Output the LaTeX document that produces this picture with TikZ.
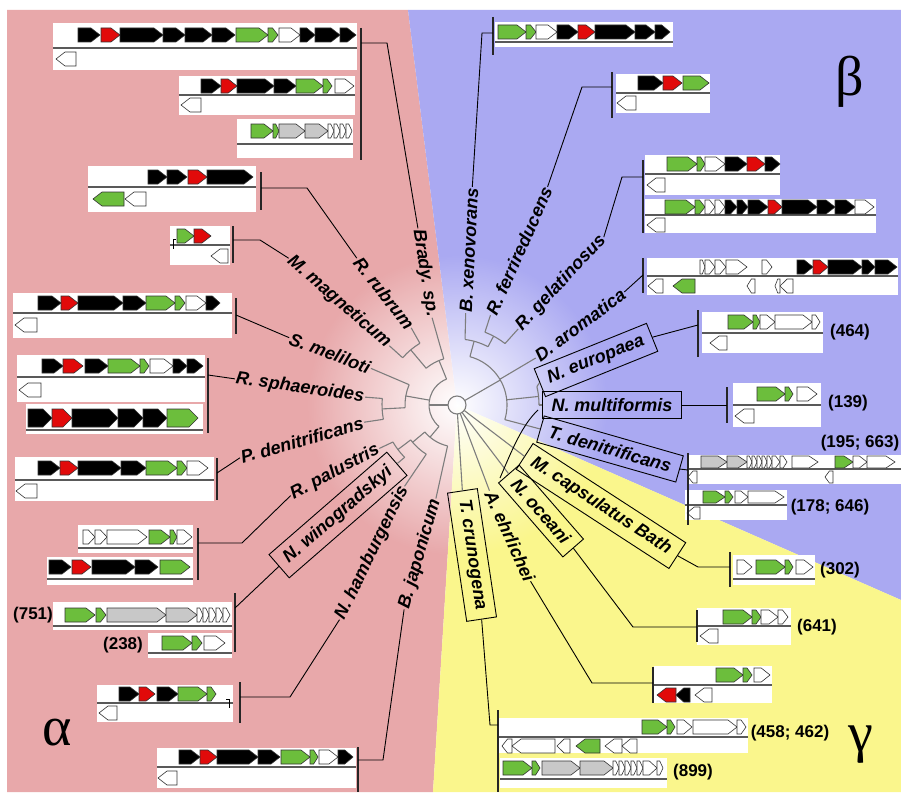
\documentclass[tikz,border=0pt]{standalone}
\usepackage{fontspec}
\setmainfont{Liberation Sans}
\newfontfamily\greekfont{Liberation Serif}
\usetikzlibrary{calc,fadings}

\definecolor{alphabg}{RGB}{232,168,170}
\definecolor{betabg}{RGB}{170,169,242}
\definecolor{gammabg}{RGB}{250,246,140}
\definecolor{treegray}{RGB}{125,125,125}
\colorlet{gk}{black}
\definecolor{gr}{RGB}{225,10,10}
\definecolor{gg}{RGB}{108,190,60}
\colorlet{gw}{white}
\definecolor{gy}{RGB}{200,200,200}

\tikzfading[name=rootglow, inner color=transparent!0, outer color=transparent!100]

\tikzset{
  treeline/.style={draw=treegray, line width=1.1pt},
  conn/.style={draw=black, line width=0.9pt},
  bracket/.style={draw=black!85, line width=1.3pt},
  genestyle/.style={draw=black!80, line width=0.6pt},
  species/.style={font=\fontsize{18}{20}\selectfont\bfseries\itshape, inner sep=1pt},
  boxed/.style={species, draw=black, line width=0.9pt, inner xsep=9pt, inner ysep=7pt},
  copies/.style={font=\fontsize{17}{19}\selectfont\bfseries, inner sep=1pt},
  clade/.style={font=\fontsize{56}{60}\selectfont\greekfont, inner sep=0pt},
  panel/.style={fill=white},
  sepline/.style={draw=black!65, line width=1.4pt}
}

% gene arrows: from x1 to x2 at height y, fill colour
\def\gh{7}
\newcommand{\fgene}[4]{%
  \pgfmathsetmacro{\gt}{#2-min(9,(#2-#1)*0.55)}%
  \draw[genestyle,fill=#4] (#1,#3-\gh) -- (\gt,#3-\gh) -- (#2,#3) -- (\gt,#3+\gh) -- (#1,#3+\gh) -- cycle;}
\newcommand{\rgene}[4]{%
  \pgfmathsetmacro{\gt}{#1+min(9,(#2-#1)*0.55)}%
  \draw[genestyle,fill=#4] (#2,#3-\gh) -- (\gt,#3-\gh) -- (#1,#3) -- (\gt,#3+\gh) -- (#2,#3+\gh) -- cycle;}
% white panel with its strand line
\newcommand{\cluster}[5]{\fill[panel] (#1,#2) rectangle (#3,#4); \draw[sepline] (#1,#5) -- (#3,#5);}
% tree pieces around the root
\newcommand{\tarc}[3]{\draw[treeline,shift={(C)}] (#2:#1) arc[start angle=#2,end angle=#3,radius=#1];}
\newcommand{\trad}[3]{\draw[treeline,shift={(C)}] (#1:#2) -- (#1:#3);}
\newcommand{\leaf}[3]{\draw[treeline] ($(C)+(#1:#2)$) -- (#3);}

\begin{document}
\begin{tikzpicture}[x=1pt,y=-1pt]
\useasboundingbox (0,0) rectangle (901,792);
\coordinate (C) at (457,405);

% background sectors
\fill[white] (0,0) rectangle (901,792);
\fill[alphabg] (C) -- (408,10) -- (7,10) -- (7,792) -- (433,792) -- cycle;
\fill[betabg] (C) -- (408,10) -- (901,10) -- (901,600) -- cycle;
\fill[gammabg] (C) -- (901,600) -- (901,792) -- (433,792) -- cycle;
\fill[white,path fading=rootglow] (C) circle (150);

% ---- alpha clusters
\cluster{53}{23}{357}{70}{48}
\foreach \a/\b/\c in {78/100/gk,101/120/gr,120/163/gk,163/185/gk,185/212/gk,212/235/gk,236/268/gg,268/278/gg,279/300/gw,300/315/gk,315/340/gk,340/356/gk} \fgene{\a}{\b}{35}{\c};
\rgene{56}{76}{59}{gw}
\cluster{179}{76}{355}{115}{95}
\foreach \a/\b/\c in {201/221/gk,221/237/gr,237/274/gk,274/296/gk,296/323/gg,323/332/gg,335/354/gw} \fgene{\a}{\b}{86}{\c};
\rgene{181}{201}{105}{gw}
\cluster{237}{119}{353}{158}{144}
\foreach \a/\b/\c in {251/273/gg,273/279/gg,279/305/gy,305/328/gy,328/334/gw,334/340/gw,340/346/gw,346/352/gw} \fgene{\a}{\b}{131}{\c};
\draw[bracket] (361,28) -- (361,160);

\cluster{88}{166}{256}{212}{187}
\foreach \a/\b/\c in {148/167/gk,167/187/gk,188/207/gr,207/253/gk} \fgene{\a}{\b}{177}{\c};
\foreach \a/\b/\c in {93/124/gg,125/146/gw} \rgene{\a}{\b}{199}{\c};
\draw[bracket] (261,172) -- (261,210);

\cluster{170}{226}{230}{265}{245}
\foreach \a/\b/\c in {177/194/gg,194/211/gr} \fgene{\a}{\b}{236}{\c};
\rgene{211}{228}{256}{gw}
\draw[line width=0.8pt] (176,239) -- (173,239) -- (173,249);
\draw[bracket] (233,226) -- (233,263);

\cluster{13}{293}{232}{338}{313}
\foreach \a/\b/\c in {38/61/gk,61/78/gr,78/123/gk,123/146/gk,146/175/gg,175/185/gg,186/206/gw,206/220/gk} \fgene{\a}{\b}{303}{\c};
\rgene{15}{37}{325}{gw}
\draw[bracket] (236,298) -- (236,334);

\cluster{17}{355}{205}{402}{377}
\foreach \a/\b/\c in {42/63/gk,63/83/gr,85/108/gk,108/140/gg,140/149/gg,150/173/gw,173/187/gk,187/203/gk} \fgene{\a}{\b}{366}{\c};
\rgene{19}{41}{390}{gw}
\cluster{26}{404}{203}{434}{430}
\def\gh{9}
\foreach \a/\b/\c in {28/52/gk,52/72/gr,72/118/gk,118/143/gk,143/167/gk,167/198/gg} \fgene{\a}{\b}{418}{\c};
\def\gh{7}
\draw[bracket] (208,358) -- (208,433);

\cluster{15}{457}{214}{501}{480}
\foreach \a/\b/\c in {38/60/gk,60/78/gr,78/121/gk,121/146/gk,146/177/gg,177/187/gg,187/208/gw} \fgene{\a}{\b}{468}{\c};
\rgene{16}{37}{491}{gw}
\draw[bracket] (217,458) -- (217,500);

\cluster{78}{525}{193}{553}{548}
\foreach \a/\b/\c in {83/95/gw,95/107/gw,107/147/gw,149/170/gg,170/177/gg,177/192/gw} \fgene{\a}{\b}{537}{\c};
\cluster{47}{557}{193}{585}{579}
\foreach \a/\b/\c in {49/71/gk,72/91/gr,92/135/gk,135/158/gk,160/190/gg} \fgene{\a}{\b}{567}{\c};
\draw[bracket] (198,528) -- (198,580);

\cluster{53}{602}{232}{630}{626}
\foreach \a/\b/\c in {65/95/gg,96/106/gg,107/166/gy,166/197/gy,197/203/gw,203/209/gw,209/216/gw,216/223/gw,223/230/gw} \fgene{\a}{\b}{615}{\c};
\node[copies] (cn751) at (33,615) {(751)};
\cluster{148}{633}{232}{658}{653}
\foreach \a/\b/\c in {162/192/gg,192/202/gg,204/225/gw} \fgene{\a}{\b}{643}{\c};
\node[copies] (cn238) at (123,645) {(238)};
\draw[bracket] (235,593) -- (235,652);

\cluster{97}{685}{233}{722}{703}
\foreach \a/\b/\c in {119/139/gk,139/155/gr,157/178/gk,178/207/gg,207/216/gg} \fgene{\a}{\b}{694}{\c};
\rgene{99}{117}{713}{gw}
\draw[line width=0.8pt] (226,699) -- (229,699) -- (229,708);
\draw[bracket] (240,682) -- (240,723);

\cluster{157}{748}{356}{788}{767}
\foreach \a/\b/\c in {179/200/gk,200/217/gr,217/258/gk,258/280/gk,281/310/gg,310/318/gg,319/338/gw,338/353/gk} \fgene{\a}{\b}{757}{\c};
\rgene{158}{177}{778}{gw}
\draw[bracket] (358,747) -- (358,792);

% ---- beta clusters
\cluster{495}{22}{673}{47}{42}
\foreach \a/\b/\c in {498/526/gg,526/536/gg,536/557/gw,557/578/gk,578/595/gr,595/635/gk,635/655/gk,655/670/gk} \fgene{\a}{\b}{32}{\c};
\draw[bracket] (493,17) -- (493,55);

\cluster{616}{74}{710}{113}{93}
\foreach \a/\b/\c in {638/663/gk,663/682/gr,683/709/gg} \fgene{\a}{\b}{83}{\c};
\rgene{617}{636}{103}{gw}
\draw[bracket] (612,72) -- (612,118);

\cluster{645}{155}{780}{195}{174}
\foreach \a/\b/\c in {667/697/gg,697/705/gg,705/725/gw,725/747/gk,747/765/gr,765/780/gk} \fgene{\a}{\b}{164}{\c};
\rgene{647}{665}{185}{gw}
\cluster{645}{199}{876}{233}{215}
\foreach \a/\b/\c in {665/695/gg,695/705/gg,705/715/gw,715/725/gw,725/737/gk,737/748/gk,748/768/gk,768/782/gr,782/817/gk,817/835/gk,835/855/gk,855/874/gw} \fgene{\a}{\b}{207}{\c};
\rgene{647}{665}{225}{gw}
\draw[bracket] (643,160) -- (643,233);

\cluster{647}{258}{898}{295}{276}
\foreach \a/\b/\c in {700/705/gw,705/715/gw,715/726/gw,726/747/gw,762/772/gw,797/813/gk,813/828/gr,828/862/gk,862/875/gk,875/897/gk} \fgene{\a}{\b}{267}{\c};
\foreach \a/\b/\c in {648/663/gw,673/695/gg,747/755/gw,775/780/gw,780/793/gw} \rgene{\a}{\b}{286}{\c};
\draw[bracket] (643,258) -- (643,293);

\cluster{702}{312}{823}{353}{333}
\foreach \a/\b/\c in {728/753/gg,753/760/gg,760/775/gw,775/812/gw,812/820/gw} \fgene{\a}{\b}{322}{\c};
\rgene{710}{727}{343}{gw}
\node[copies] (cn464) at (850,332) {(464)};
\draw[bracket] (698,310) -- (698,357);

\cluster{733}{383}{821}{427}{405}
\foreach \a/\b/\c in {757/785/gg,785/793/gg,797/817/gw} \fgene{\a}{\b}{394}{\c};
\rgene{735}{754}{416}{gw}
\node[copies] (cn139) at (848,403) {(139)};
\draw[bracket] (727,387) -- (727,423);

\def\gh{6}
\cluster{687}{455}{901}{484}{469}
\foreach \a/\b/\c in {701/727/gy,727/747/gy,747/752/gw,752/757/gw,757/762/gw,762/767/gw,767/772/gw,772/780/gw,780/787/gw,792/818/gw,835/853/gg,853/867/gw,867/895/gw} \fgene{\a}{\b}{462}{\c};
\foreach \a/\b/\c in {688/697/gw,825/833/gw} \rgene{\a}{\b}{477}{\c};
\node[copies] (cn195) at (860,443) {(195; 663)};
\cluster{685}{490}{787}{520}{505}
\foreach \a/\b/\c in {703/725/gg,725/733/gg,735/748/gw,748/784/gw} \fgene{\a}{\b}{497}{\c};
\rgene{687}{700}{513}{gw}
\node[copies] (cn178) at (830,507) {(178; 646)};
\def\gh{7}
\draw[bracket] (688,453) -- (688,525);

% ---- gamma clusters
\cluster{733}{555}{815}{585}{579}
\foreach \a/\b/\c in {737/752/gw,756/785/gg,785/793/gg,796/813/gw} \fgene{\a}{\b}{567}{\c};
\node[copies] (cn302) at (840,570) {(302)};
\draw[bracket] (730,552) -- (730,587);

\cluster{697}{608}{791}{645}{626}
\foreach \a/\b/\c in {723/752/gg,752/761/gg,761/778/gw,778/788/gw} \fgene{\a}{\b}{617}{\c};
\rgene{700}{718}{636}{gw}
\node[copies] (cn641) at (817,627) {(641)};
\draw[bracket] (697,610) -- (697,642);

\cluster{654}{666}{772}{703}{685}
\foreach \a/\b/\c in {716/743/gg,743/752/gg,754/770/gw} \fgene{\a}{\b}{675}{\c};
\foreach \a/\b/\c in {657/676/gr,676/690/gk,695/712/gw} \rgene{\a}{\b}{695}{\c};
\draw[bracket] (653,667) -- (653,703);

\cluster{498}{718}{748}{753}{737}
\foreach \a/\b/\c in {642/667/gg,667/675/gg,677/692/gw,693/737/gw,737/746/gw} \fgene{\a}{\b}{727}{\c};
\foreach \a/\b/\c in {502/512/gw,512/555/gw,557/570/gw,576/600/gg,605/622/gw,622/637/gw} \rgene{\a}{\b}{746}{\c};
\node[copies] (cn458) at (790,733) {(458; 462)};
\cluster{500}{758}{667}{788}{779}
\foreach \a/\b/\c in {503/532/gg,532/540/gg,542/580/gy,580/613/gy,613/619/gw,619/625/gw,625/631/gw,631/637/gw,637/643/gw,643/657/gw,657/663/gw} \fgene{\a}{\b}{768}{\c};
\node[copies] (cn899) at (693,772) {(899)};
\draw[bracket] (498,710) -- (498,792);

% ---- species labels
\node[species, rotate=-81] (lbBrady) at (425,273) {Brady. sp.};
\node[species, rotate=-52] (lbRubrum) at (384,293) {R. rubrum};
\node[species, rotate=-41] (lbMagn) at (339,302) {M. magneticum};
\node[species, rotate=-20.6] (lbMeli) at (330,353) {S. meliloti};
\node[species, rotate=-8] (lbSphaer) at (300,388) {R. sphaeroides};
\node[species, rotate=16] (lbPden) at (302,440) {P. denitrificans};
\node[species, rotate=28] (lbPalus) at (335,472) {R. palustris};
\node[boxed, rotate=41] (lbWino) at (338,515) {N. winogradskyi};
\node[species, rotate=64] (lbHamb) at (372,553) {N. hamburgensis};
\node[species, rotate=74] (lbJapo) at (420,554) {B. japonicum};

\node[species, rotate=87] (lbXeno) at (469,250) {B. xenovorans};
\node[species, rotate=66] (lbFerri) at (519,251) {R. ferrireducens};
\node[species, rotate=47] (lbGelat) at (561,283) {R. gelatinosus};
\node[species, rotate=36.7] (lbAroma) at (580,325) {D. aromatica};
\node[boxed, rotate=22] (lbEurop) at (596,360) {N. europaea};
\node[boxed] (lbMulti) at (612,405) {N. multiformis};
\node[boxed, rotate=-16] (lbTden) at (610,449) {T. denitrificans};

\node[boxed, rotate=-33] (lbCaps) at (601,506) {M. capsulatus Bath};
\node[boxed, rotate=-49] (lbOcean) at (541,511) {N. oceani};
\node[species, rotate=-65.6] (lbEhrl) at (510,536) {A. ehrlichei};
\node[boxed, rotate=-81.5] (lbCrun) at (472,555) {T. crunogena};

\node[clade] (alpha) at (57,733) {α};
\node[clade] (beta) at (850,82) {β};
\node[clade] (gamma) at (861,745) {γ};

% ---- inner tree
\draw[treeline] (C) circle (9);
\trad{180}{9}{28}
\tarc{28}{130}{248}
\trad{248}{28}{48}
\tarc{48}{230}{254}
\leaf{254}{48}{lbBrady.east}
\trad{230}{48}{72}
\tarc{72}{221}{239}
\leaf{239}{72}{lbRubrum.east}
\leaf{221}{72}{lbMagn.east}
\trad{190}{28}{52}
\tarc{52}{177}{203}
\leaf{203}{52}{lbMeli.east}
\trad{177}{52}{75}
\tarc{75}{169}{185}
\leaf{185}{75}{lbSphaer.east}
\leaf{169}{75}{lbPden.east}
\trad{130}{28}{42}
\tarc{42}{103}{140}
\leaf{103}{42}{lbJapo.east}
\trad{140}{42}{58}
\tarc{58}{122}{143}
\leaf{122}{58}{lbHamb.east}
\trad{143}{58}{74}
\tarc{74}{135}{150}
\leaf{150}{74}{lbPalus.east}
\leaf{135}{74}{lbWino.east}

\trad{-30}{9}{50}
\tarc{50}{-75}{17}
\trad{-75}{50}{66}
\tarc{66}{-83}{-62}
\leaf{-83}{66}{lbXeno.west}
\trad{-62}{66}{78}
\tarc{78}{-69}{-52}
\leaf{-69}{78}{lbFerri.west}
\leaf{-52}{78}{lbGelat.west}
\leaf{-31}{50}{lbAroma.west}
\trad{-6}{50}{82}
\tarc{82}{-13}{0}
\leaf{-13}{82}{lbEurop.west}
\leaf{0}{82}{lbMulti.west}
\leaf{17}{50}{lbTden.west}

\leaf{37}{9}{lbCaps.west}
\leaf{56}{9}{lbOcean.west}
\leaf{69}{9}{lbEhrl.west}
\leaf{87}{9}{lbCrun.west}

% ---- connectors to the clusters
\draw[conn] (lbBrady.west) -- (387,43) -- (361,43);
\draw[conn] (lbRubrum.west) -- (307,188) -- (261,188);
\draw[conn] (lbMagn.west) -- (260,240) -- (233,240);
\draw[conn] (lbMeli.west) -- (236,315);
\draw[conn] (lbSphaer.west) -- (208,375);
\draw[conn] (lbPden.west) -- (217,473);
\draw[conn] (lbPalus.west) -- (242,543) -- (198,543);
\draw[conn] (lbWino.west) -- (235,608);
\draw[conn] (lbHamb.west) -- (290,697) -- (240,697);
\draw[conn] (lbJapo.west) -- (383,760) -- (358,760);

\draw[conn] (lbXeno.east) -- (482,33) -- (493,33);
\draw[conn] (lbFerri.east) -- (582,87) -- (612,87);
\draw[conn] (lbGelat.east) -- (622,177) -- (643,177);
\draw[conn] (lbAroma.east) -- (643,275);
\draw[conn] (lbEurop.east) -- (698,325);
\draw[conn] (lbMulti.east) -- (727,405);
\draw[conn] (lbTden.east) -- (688,470);

\draw[conn] (lbCaps.east) -- (698,567) -- (730,567);
\draw[conn] (lbOcean.east) -- (633,627) -- (697,627);
\draw[conn] (lbEhrl.east) -- (592,683) -- (653,683);
\draw[conn] (lbCrun.east) -- (490,725) -- (498,725);

\draw[conn] (538,410) .. controls (522,425) and (512,450) .. (500,478);
\end{tikzpicture}
\end{document}
